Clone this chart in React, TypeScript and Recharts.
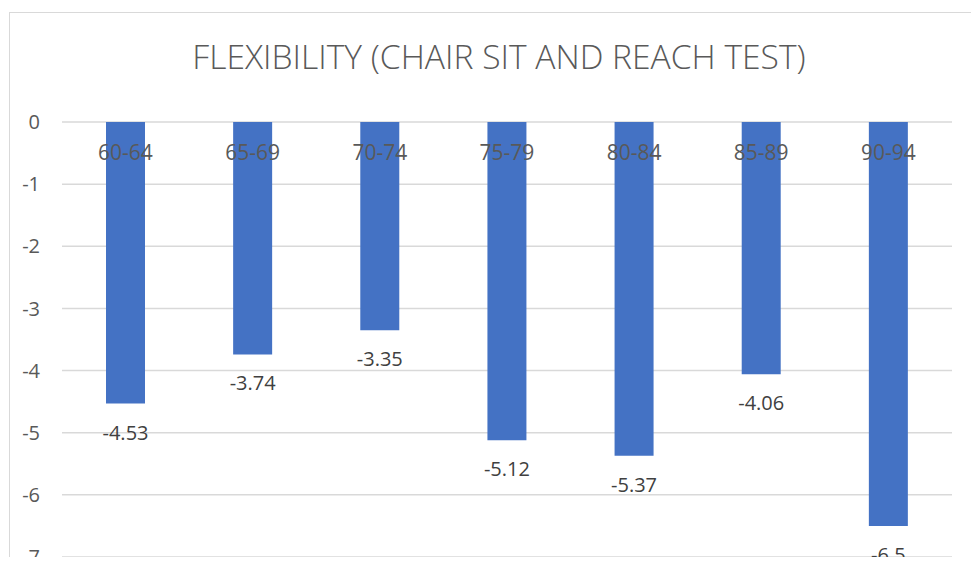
import { BarChart, Bar, XAxis, YAxis, CartesianGrid, LabelList } from 'recharts';

const ageGroups = ['60-64', '65-69', '70-74', '75-79', '80-84', '85-89', '90-94'];
const scores = [-4.53, -3.74, -3.35, -5.12, -5.37, -4.06, -6.5];
const yTicks = [0, -1, -2, -3, -4, -5, -6, -7];

const data = ageGroups.map((name, i) => ({ name, value: scores[i] }));

const FONT = '"Open Sans", sans-serif';

// category name just under the zero line
const CategoryLabel = (props: any) => {
    const { x, y, width, height, value } = props;
    const top = Math.min(y, y + height);
    return (
        <text x={x + width / 2} y={top + 38} textAnchor="middle" fill="#595959" fontSize={21} fontFamily={FONT}>
            {value}
        </text>
    );
};

// value under the end of the bar
const ValueLabel = (props: any) => {
    const { x, y, width, height, value } = props;
    const end = Math.max(y, y + height);
    return (
        <text x={x + width / 2} y={end + 36} textAnchor="middle" fill="#404040" fontSize={20} fontFamily={FONT}>
            {value}
        </text>
    );
};

export default function App() {
    return (
        <div style={{ position: 'relative', width: 979, height: 565, margin: -8, overflow: 'hidden', background: '#fff' }}>
            <div
                style={{
                    position: 'absolute',
                    left: 9,
                    top: 12,
                    width: 1000,
                    height: 600,
                    border: '1px solid #d9d9d9',
                }}
            />
            <div
                style={{
                    position: 'absolute',
                    left: 0,
                    top: 34,
                    width: 998,
                    textAlign: 'center',
                    fontFamily: FONT,
                    fontSize: 33.6,
                    fontWeight: 300,
                    color: '#595959',
                    lineHeight: '44px',
                }}
            >
                FLEXIBILITY (CHAIR SIT AND REACH TEST)
            </div>
            <div style={{ position: 'absolute', left: 0, top: 0 }}>
                <BarChart width={979} height={565} data={data} margin={{ top: 122, right: 27, bottom: 8, left: 12 }}>
                    <CartesianGrid vertical={false} stroke="#d9d9d9" strokeWidth={1.5} />
                    <XAxis dataKey="name" hide />
                    <YAxis
                        width={50}
                        domain={[-7, 0]}
                        ticks={yTicks}
                        interval={0}
                        axisLine={false}
                        tickLine={false}
                        tickSize={0}
                        tickMargin={22}
                        tick={{ fill: '#595959', fontSize: 20, fontFamily: FONT }}
                    />
                    <Bar dataKey="value" fill="#4472C4" barSize={39} isAnimationActive={false}>
                        <LabelList dataKey="name" content={CategoryLabel} />
                        <LabelList dataKey="value" content={ValueLabel} />
                    </Bar>
                </BarChart>
            </div>
        </div>
    );
}
